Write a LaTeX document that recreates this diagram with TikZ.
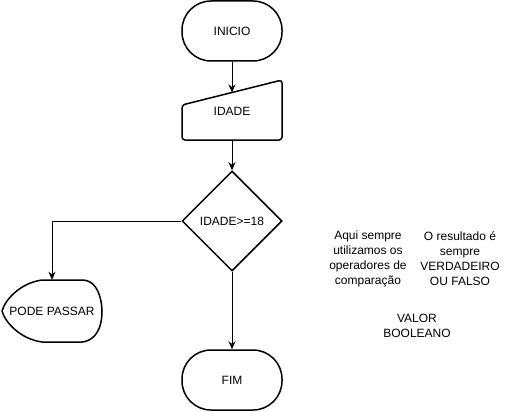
\documentclass[tikz,border=0pt]{standalone}
\usepackage{fontspec}
\setmainfont{Liberation Sans}
\usetikzlibrary{shapes.geometric,arrows.meta}

\begin{document}
\begin{tikzpicture}[x=1pt,y=-1pt,
    font=\fontsize{12}{15}\selectfont,
    every node/.style={inner sep=0pt,align=center},
    term/.style={draw,line width=1.5pt,rounded corners=29pt,minimum width=100pt,minimum height=60pt},
    decision/.style={draw,diamond,aspect=1,line width=1.5pt,minimum width=100pt,minimum height=100pt},
    flow/.style={line width=1pt,-{Stealth[length=8pt,width=7pt]}},
    outline/.style={line width=1.5pt,line join=round}]
  \useasboundingbox (0,0) rectangle (512,412);
  % Start
  \node[term] (inicio) at (232,31) {INICIO};
  % Manual input IDADE
  \draw[outline,rounded corners=3pt] (182,105) -- (282,80) -- (282,140) -- (182,140) -- cycle;
  \node (idade) at (232,111) {IDADE};
  \coordinate (idadetop) at (232,92.5);
  \coordinate (idadebot) at (232,140);
  % Decision
  \node[decision] (teste) at (232,221) {IDADE>=18};
  % Display PODE PASSAR
  \draw[outline] (42,280) -- (82,280)
    .. controls (102,280) and (102,311) .. (102,311)
    .. controls (102,342) and (82,342) .. (82,342)
    -- (42,342)
    .. controls (20,339) and (5,322) .. (2,311)
    .. controls (5,300) and (20,283) .. (42,280) -- cycle;
  \node[minimum width=100pt,minimum height=62pt] (pode) at (52,311) {PODE PASSAR};
  % End
  \node[term] (fim) at (232,380) {FIM};
  % Connectors
  \draw[flow] (inicio.south) -- (idadetop);
  \draw[flow] (idadebot) -- (teste.north);
  \draw[flow] (teste.west) -| (pode.north);
  \draw[flow] (teste.south) -- (fim.north);
  % Notes
  \node (nota1) at (368,259) {Aqui sempre\\utilizamos os\\operadores de\\comparação};
  \node (nota2) at (460,259) {O resultado é\\sempre\\VERDADEIRO\\OU FALSO};
  \node (nota3) at (417,326) {VALOR\\BOOLEANO};
\end{tikzpicture}
\end{document}
